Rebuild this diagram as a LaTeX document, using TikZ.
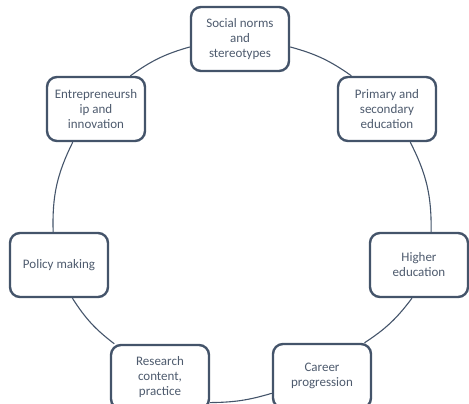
\documentclass[tikz,border=0pt]{standalone}
\usepackage{fontspec}
\setmainfont{Carlito}
\usetikzlibrary{positioning}
\definecolor{boxcol}{HTML}{44546A}
\definecolor{txtcol}{HTML}{4E5B6E}

\begin{document}
\begin{tikzpicture}[x=1pt, y=-1pt,
	stage/.style={draw=boxcol, line width=2.4pt, rounded corners=10pt, fill=white,
		minimum width=98pt, minimum height=64pt, align=center, text=txtcol,
		font=\fontsize{13pt}{15pt}\selectfont},
	link/.style={draw=boxcol, line width=1.1pt}]
	\useasboundingbox (0,0) rectangle (469,404);
	% stages round the cycle
	\node[stage] (soc) at (240,39) {Social norms\\ and\\ stereotypes};
	\node[stage] (pri) at (387,109) {Primary and\\ secondary\\ education};
	\node[stage] (hig) at (419,265) {Higher\\ education};
	\node[stage] (car) at (322,376) {Career\\ progression};
	\node[stage] (res) at (160,377) {Research\\ content,\\ practice};
	\node[stage] (pol) at (59,265) {Policy making};
	\node[stage] (ent) at (96,109) {Entrepreneursh\\ ip and\\ innovation};
	% arcs between them
	\draw[link] (soc.189) to[bend right=10] (ent.44);
	\draw[link] (ent.235) to[bend right=14] (pol.100);
	\draw[link] (pol.292) to[bend right=10] (res.144);
	\draw[link] (res.333) to[bend right=8] (car.199);
	\draw[link] (car.38) to[bend right=10] (hig.258);
	\draw[link] (hig.70) to[bend right=14] (pri.305);
	\draw[link] (pri.137) to[bend right=10] (soc.351);
\end{tikzpicture}
\end{document}
